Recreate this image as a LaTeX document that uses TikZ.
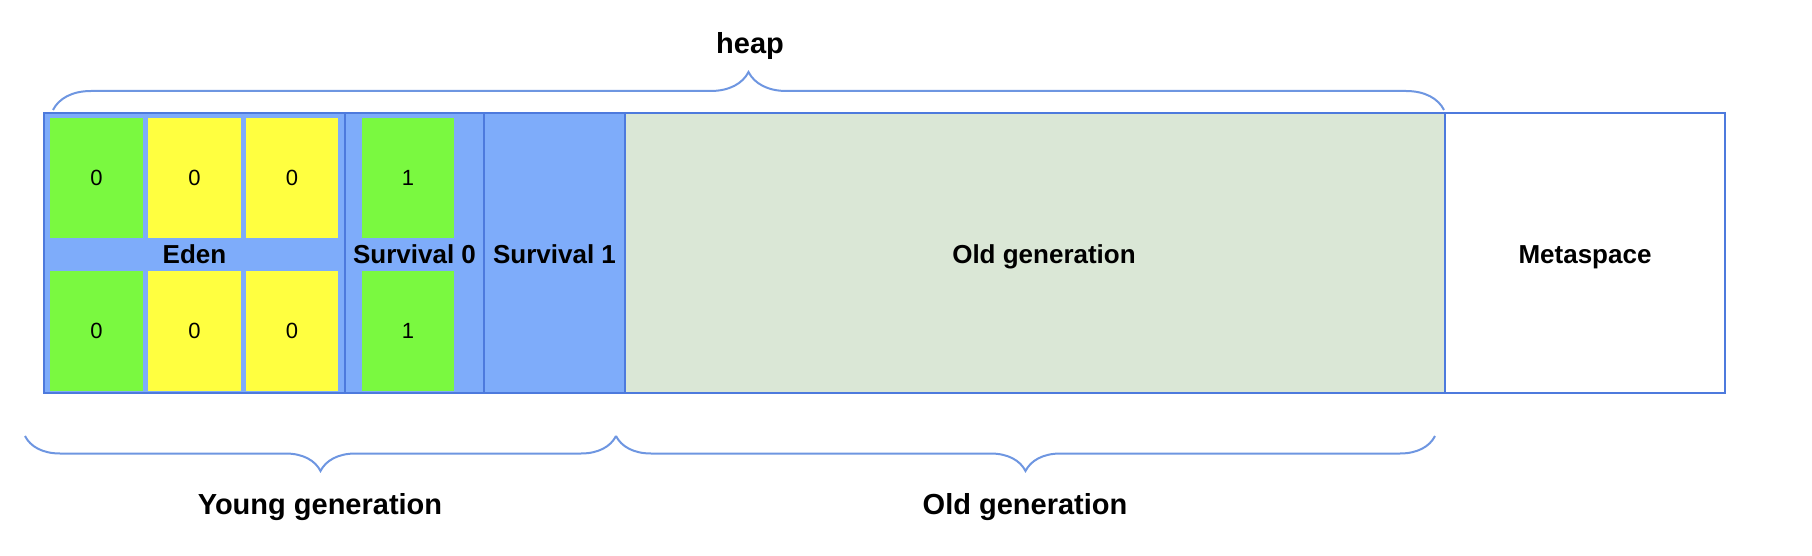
\documentclass[tikz,border=0pt]{standalone}
\usepackage{fontspec}
\setmainfont{Liberation Sans}
\usetikzlibrary{decorations.pathreplacing}

\definecolor{edgeblue}{RGB}{77,122,221}
\definecolor{spaceblue}{RGB}{126,172,250}
\definecolor{cellgreen}{RGB}{122,249,64}
\definecolor{cellyellow}{RGB}{255,255,64}
\definecolor{oldgreen}{RGB}{218,231,214}
\definecolor{braceblue}{RGB}{110,150,225}

\begin{document}
\begin{tikzpicture}[x=1pt,y=-1pt]
\tikzstyle{region}=[draw=edgeblue,line width=2pt,inner sep=0pt,minimum height=280pt,text height=20pt,text depth=0pt,font=\fontsize{26}{31}\selectfont\bfseries]
\tikzstyle{cell}=[inner sep=0pt,minimum width=93pt,minimum height=120pt,font=\fontsize{22}{26}\selectfont]
\tikzstyle{brace}=[draw=braceblue,line width=2pt,decorate]
\tikzstyle{caption}=[text height=21pt,text depth=0pt,font=\fontsize{29}{35}\selectfont\bfseries]
\useasboundingbox (0,0) rectangle (1812,556);

\node[region,fill=spaceblue,minimum width=301pt] (eden) at (194.5,253) {Eden};
\node[region,fill=spaceblue,minimum width=139pt] (surv0) at (414.5,253) {Survival 0};
\node[region,fill=spaceblue,minimum width=141pt] (surv1) at (554.5,253) {Survival 1};
\node[region,fill=oldgreen,minimum width=820pt] (old) at (1035,253) {};
\node[region,draw=none,fill=none,minimum height=0pt] (oldlabel) at (1044,253) {Old generation};
\node[region,fill=white,minimum width=280pt] (meta) at (1585,253) {Metaspace};

\node[cell,fill=cellgreen] (e1) at (96.5,178) {0};
\node[cell,fill=cellyellow] (e2) at (194.5,178) {0};
\node[cell,fill=cellyellow,minimum width=92pt] (e3) at (292,178) {0};
\node[cell,fill=cellgreen] (e4) at (96.5,331) {0};
\node[cell,fill=cellyellow] (e5) at (194.5,331) {0};
\node[cell,fill=cellyellow,minimum width=92pt] (e6) at (292,331) {0};
\node[cell,fill=cellgreen,minimum width=92pt] (s1) at (408,178) {1};
\node[cell,fill=cellgreen,minimum width=92pt] (s2) at (408,331) {1};

\coordinate (heapL) at (53,110);
\coordinate (heapR) at (1444,110);
\coordinate (youngL) at (25,436);
\coordinate (youngR) at (616,436);
\coordinate (oldR) at (1435,436);

\draw[brace,decoration={brace,amplitude=38pt}] (heapL) -- (heapR);
\draw[brace,decoration={brace,amplitude=35pt}] (youngR) -- (youngL);
\draw[brace,decoration={brace,amplitude=35pt}] (oldR) -- (youngR);

\node[caption] (heap) at (750,43) {heap};
\node[caption] (young) at (320,504) {Young generation};
\node[caption] (oldgen) at (1025,504) {Old generation};
\end{tikzpicture}
\end{document}
